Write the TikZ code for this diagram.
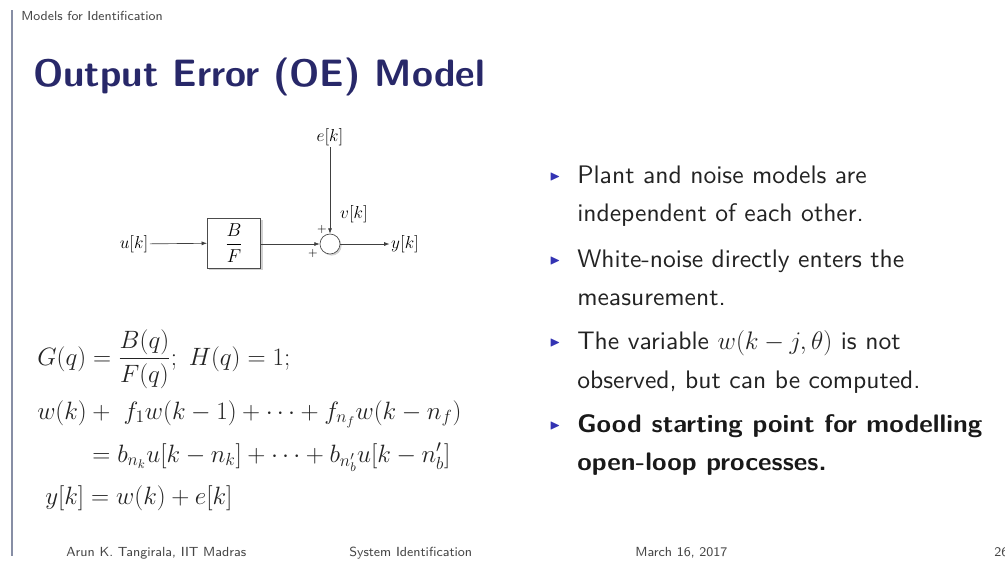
\RequirePackage{fix-cm}
\documentclass[tikz,border=0pt]{standalone}
\usepackage{amsmath,amssymb}
\usepackage{fontspec}
\newfontfamily\bodysf{lmsans10-regular}[Extension=.otf, FakeStretch=1.01]
\newfontfamily\boldsf{lmsans10-bold}[Extension=.otf, FakeStretch=1.04]
\newfontfamily\smallsf{lmsans8-regular}[Extension=.otf]
\usetikzlibrary{arrows.meta,shadows}
\definecolor{navy}{RGB}{40,40,105}
\definecolor{bulletblue}{RGB}{51,51,179}
\definecolor{leftbar}{RGB}{135,142,165}
\definecolor{txt}{RGB}{35,35,35}
\definecolor{foot}{RGB}{70,70,70}
\tikzset{
  sig/.style={inner sep=1pt, font=\fontsize{13}{15}\selectfont},
  plus/.style={inner sep=0pt, font=\fontsize{9}{10}\selectfont},
  blockbox/.style={draw=black!70, fill=white, line width=0.5pt, minimum width=40pt, minimum height=37.5pt,
    font=\fontsize{14}{16}\selectfont,
    drop shadow={shadow xshift=1.5pt, shadow yshift=-1.5pt, opacity=0.35}},
  sumnode/.style={circle, draw=black!70, fill=white, line width=0.5pt, minimum size=15pt, inner sep=0pt,
    drop shadow={shadow xshift=1.2pt, shadow yshift=-1.2pt, opacity=0.35}},
  wire/.style={draw=black!75, line width=0.5pt, -{Latex[length=4pt,width=3pt]}},
  eqn/.style={anchor=base west, inner sep=0pt, text=txt, font=\fontsize{18.8}{22}\selectfont},
  btxt/.style={anchor=base west, inner sep=0pt, text=txt, font=\bodysf\fontsize{19}{22}\selectfont},
  bbold/.style={anchor=base west, inner sep=0pt, text=black!90, font=\boldsf\fontsize{19}{22}\selectfont},
  bmark/.style={inner sep=0pt, text=bulletblue, font=\fontsize{10.5}{11}\selectfont},
  foottxt/.style={anchor=base west, inner sep=0pt, text=foot, font=\smallsf\fontsize{9.9}{11}\selectfont},
}
\begin{document}
\begin{tikzpicture}[x=0.75pt,y=-0.75pt]
\useasboundingbox (0,0) rectangle (1005,562);
\fill[white] (0,0) rectangle (1005,562);
\draw[leftbar, line width=2pt] (12,10) -- (12,556);
\node[anchor=base west, inner sep=0pt, text=foot, font=\smallsf\fontsize{9.8}{11}\selectfont] (hdr) at (21,20) {Models for Identification};
\node[anchor=base west, inner sep=0pt, text=navy, font=\sffamily\bfseries\fontsize{28.6}{34}\selectfont] (title) at (33,86) {Output Error (OE) Model};

% block diagram
\node[sig] (u) at (134,244) {$u[k]$};
\node[blockbox] (blk) at (234,243) {$\dfrac{B}{F}$};
\node[sumnode] (sum) at (330,244) {};
\node[sig] (e) at (330,137) {$e[k]$};
\node[sig] (v) at (354,214) {$v[k]$};
\node[sig] (y) at (405,244) {$y[k]$};
\node[plus] (p1) at (322,229) {$+$};
\node[plus] (p2) at (313,253) {$+$};
\draw[wire] (u) -- (blk);
\draw[wire] (blk.east |- sum) -- (sum);
\draw[wire] (e) -- (sum);
\draw[wire] (sum) -- (y);

% equations
\node[eqn] (eq1) at (37,365) {$G(q) = \dfrac{B(q)}{F(q)};\ H(q) = 1;$};
\node[eqn] (eq2) at (37,419) {$w(k) +\ f_1 w(k-1) + \cdots + f_{n_f} w(k-n_f)$};
\node[eqn] (eq3) at (92,462) {$= b_{n_k} u[k-n_k] + \cdots + b_{n_b'} u[k-n_b']$};
\node[eqn] (eq4) at (45,504) {$y[k] = w(k) + e[k]$};

% bullets
\node[bmark] (b1) at (555,177) {$\blacktriangleright$};
\node[btxt] (t1a) at (577,183) {Plant and noise models are};
\node[btxt] (t1b) at (577,221) {independent of each other.};
\node[bmark] (b2) at (555,261) {$\blacktriangleright$};
\node[btxt] (t2a) at (577,267) {White-noise directly enters the};
\node[btxt] (t2b) at (577,305) {measurement.};
\node[bmark] (b3) at (555,343) {$\blacktriangleright$};
\node[btxt] (t3a) at (577,349) {The variable $w(k-j,\theta)$ is not};
\node[btxt] (t3b) at (577,388) {observed, but can be computed.};
\node[bmark] (b4) at (555,426) {$\blacktriangleright$};
\node[bbold] (t4a) at (577,432) {Good starting point for modelling};
\node[bbold] (t4b) at (577,470) {open-loop processes.};

% footer
\node[foottxt] (f1) at (66,556) {Arun K. Tangirala, IIT Madras};
\node[foottxt] (f2) at (349,556) {System Identification};
\node[foottxt] (f3) at (635,556) {March 16, 2017};
\node[foottxt] (f4) at (994,556) {26};
\end{tikzpicture}
\end{document}
